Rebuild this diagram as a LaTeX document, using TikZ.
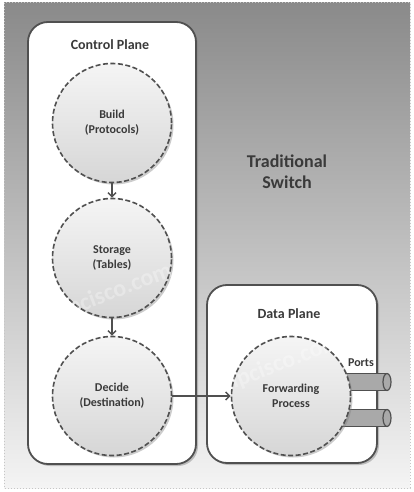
\documentclass[tikz,border=0pt]{standalone}
\usepackage{fontspec}
\setmainfont{Carlito}
\usetikzlibrary{arrows.meta,shadows}
\definecolor{edgec}{HTML}{505050}
\definecolor{txtc}{HTML}{3A3A3A}
\definecolor{bgtop}{HTML}{8A8A8A}
\definecolor{bgbot}{HTML}{F4F4F4}
\definecolor{pipec}{HTML}{A9A9A9}
\begin{document}
\begin{tikzpicture}[x=1pt,y=-1pt,
  plane/.style={draw=edgec, line width=1.8pt, rounded corners=20pt, fill=white,
    drop shadow={shadow xshift=2pt, shadow yshift=-2pt, opacity=0.45}},
  proc/.style={circle, draw=edgec, line width=1.6pt, dash pattern=on 5pt off 2.5pt,
    minimum size=119pt, inner sep=0pt, align=center, text=txtc,
    font=\fontsize{12}{15}\selectfont\bfseries,
    top color=white!92!gray, bottom color=gray!32,
    drop shadow={shadow xshift=2pt, shadow yshift=-2pt, opacity=0.4}},
  title/.style={text=txtc, font=\fontsize{14}{16}\selectfont\bfseries},
  flow/.style={draw=edgec, line width=1.5pt, -{Straight Barb[length=4pt,width=8pt,line width=1.5pt]}},
  pipe/.style={fill=pipec, draw=edgec, line width=1.2pt},
  wmark/.style={text=white, opacity=0.3, font=\fontsize{24}{26}\selectfont\bfseries, rotate=21}
]
\useasboundingbox (0,0) rectangle (414,492);
\shade[top color=bgtop, bottom color=bgbot] (4,3) rectangle (410,488);
\draw[gray!45, dotted, line width=1pt] (4,3) rectangle (410,488);

\node[plane, minimum width=168pt, minimum height=442pt] (cp) at (112,243) {};
\node[plane, minimum width=170pt, minimum height=178pt] (dp) at (292,374) {};

\node[title] (cpl) at (110,45) {Control Plane};
\node[title] (dpl) at (289,314) {Data Plane};
\node[text=txtc, font=\fontsize{18}{21}\selectfont\bfseries, align=center] (ts) at (287,172) {Traditional\\Switch};

% ports (pipes)
\coordinate (p1) at (387,382);
\coordinate (p2) at (387,418);
\draw[pipe] (330,373.5) rectangle (387,390.5);
\draw[pipe] (p1) ellipse[x radius=4pt, y radius=8.5pt];
\draw[pipe] (330,409.5) rectangle (387,426.5);
\draw[pipe] (p2) ellipse[x radius=4pt, y radius=8.5pt];
\node[text=txtc, font=\fontsize{12}{14}\selectfont\bfseries] (ports) at (361,363) {Ports};

\node[proc] (build) at (112,123) {Build\\(Protocols)};
\node[proc] (store) at (112,258) {Storage\\(Tables)};
\node[proc] (decide) at (112,396) {Decide\\(Destination)};
\node[proc] (fwd) at (291,396) {Forwarding\\Process};

\draw[flow] (build) -- (store);
\draw[flow] (store) -- (decide);
\draw[flow] (decide) -- (fwd);

\node[wmark] (wm1) at (117,291) {ipcisco.com};
\node[wmark] (wm2) at (286,362) {ipcisco.com};
\end{tikzpicture}
\end{document}
